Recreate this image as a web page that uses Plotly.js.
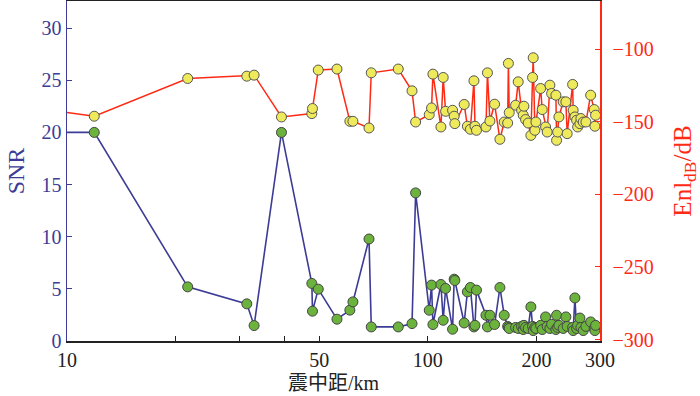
<!DOCTYPE html>
<html>
<head>
<meta charset="utf-8">
<script src="https://cdn.plot.ly/plotly-3.0.1.min.js"></script>
<style>html,body{margin:0;padding:0;background:#fff;}#chart{width:700px;height:396px;}</style>
</head>
<body>
<div id="chart"></div>
<script>
// epicentral distance (km)
const dist = [8, 11.9, 21.6, 31.5, 33.0, 39.3, 47.7, 47.9, 49.7, 56.0,
  60.8, 62.0, 68.7, 69.7, 82.8, 90.4, 92.5, 100.9, 102.4, 103.3,
  108.7, 110.3, 112.0, 117.1, 118.3, 118.8, 126.1, 128.7, 131.2, 134.2,
  135.1, 136.4, 144.9, 146.3, 148.6, 153.1, 158.4, 162.8, 166.4, 167.2,
  168.1, 175.1, 178.0, 181.9, 183.8, 184.6, 186.6, 189.7, 193.0, 195.1,
  195.9, 198.0, 199.3, 205.4, 207.5, 212.0, 214.2, 217.9, 220.3, 226.4,
  227.4, 228.9, 230.8, 237.2, 241.3, 243.3, 251.9, 252.8, 255.6, 258.4,
  260.1, 263.9, 265.6, 269.5, 274.2, 282.6, 289.1, 290.4, 291.7];
// SNR (left axis)
const snr = [20, 20, 5.19, 3.56, 1.48, 20, 5.52, 2.86, 4.97, 2.09,
  2.96, 3.75, 9.78, 1.35, 1.35, 1.67, 14.2, 2.95, 5.36, 1.58,
  5.42, 1.99, 5.04, 1.13, 5.93, 5.8, 1.73, 4.71, 5.13, 1.35,
  1.5, 4.88, 2.47, 1.35, 2.47, 1.58, 5.13, 2.47, 1.4, 1.3,
  1.2, 1.3, 1.2, 1.4, 1.1, 1.5, 1.3, 1.2, 3.27, 1.4,
  1.0, 1.3, 1.2, 1.5, 1.1, 2.31, 1.4, 1.2, 1.6, 1.1,
  2.47, 1.3, 1.5, 1.2, 2.31, 1.4, 1.3, 1.0, 4.13, 1.2,
  1.5, 2.2, 1.3, 1.0, 1.4, 1.83, 1.2, 1.0, 1.5];
// Enl_dB (right axis)
const enl = [-140.4, -146.1, -120.1, -118.5, -117.8, -146.6, -144.3, -140.8, -114.3, -113.6,
  -149.6, -149.6, -154.2, -116.2, -113.6, -128.6, -150.1, -145.0, -140.4, -117.1,
  -153.5, -119.4, -142.7, -142.0, -146.1, -151.2, -138.0, -153.0, -155.1, -121.7,
  -153.0, -155.8, -153.5, -116.2, -149.4, -137.8, -162.0, -150.1, -150.8, -109.7,
  -143.6, -138.5, -122.4, -142.0, -145.4, -139.2, -148.4, -150.8, -159.3, -119.4,
  -105.8, -155.8, -150.1, -127.0, -141.5, -153.5, -157.0, -124.7, -130.4, -131.6,
  -162.7, -157.0, -146.6, -136.2, -136.2, -158.1, -124.2, -142.0, -146.6, -148.9,
  -153.5, -151.2, -147.7, -150.1, -150.1, -131.6, -141.5, -153.0, -145.4];

const xTickVals = [10, 50, 100, 200, 300];
const xMinorTickVals = [20, 30, 40];
const yTickVals = [0, 5, 10, 15, 20, 25, 30];
const y2TickVals = [-300, -250, -200, -150, -100];

const BLUE = '#3c3c96';
const RED = '#ff2a14';
const SERIF = '"Liberation Serif", "Times New Roman", serif';
const CJK = '"Liberation Serif", "Noto Sans CJK SC", serif';

const traces = [
  {
    x: dist, y: snr, type: 'scatter', mode: 'lines+markers', yaxis: 'y',
    line: {color: BLUE, width: 1.6},
    marker: {size: 10, color: '#6cb33e', line: {color: '#444', width: 1}},
    showlegend: false, hoverinfo: 'skip'
  },
  {
    x: dist, y: enl, type: 'scatter', mode: 'lines+markers', yaxis: 'y2',
    line: {color: RED, width: 1.5},
    marker: {size: 10, color: '#eeea5c', line: {color: '#555', width: 1}},
    showlegend: false, hoverinfo: 'skip'
  }
];

const layout = {
  width: 700, height: 396,
  margin: {l: 67, r: 100, t: 1, b: 55, pad: 0},
  paper_bgcolor: '#fff', plot_bgcolor: '#fff',
  xaxis: {
    type: 'log', range: [1, Math.log10(300)],
    tickmode: 'array', tickvals: xTickVals,
    ticks: 'inside', ticklen: 5, tickwidth: 1, tickcolor: '#222',
    minor: {tickmode: 'array', tickvals: xMinorTickVals, ticks: 'inside', ticklen: 5, tickwidth: 1, tickcolor: '#222', showgrid: false},
    showline: true, linecolor: '#222', linewidth: 1.5, mirror: true,
    showgrid: false, zeroline: false,
    tickfont: {family: SERIF, size: 20, color: '#222'},
    title: {text: '震中距/km', font: {family: CJK, size: 20, color: '#222'}, standoff: 6}
  },
  yaxis: {
    range: [0, 32.6], tickvals: yTickVals,
    ticks: 'inside', ticklen: 5, tickwidth: 1, tickcolor: BLUE,
    showline: true, linecolor: BLUE, linewidth: 1.5,
    showgrid: false, zeroline: false,
    tickfont: {family: SERIF, size: 20, color: BLUE},
    title: {text: 'SNR', font: {family: SERIF, size: 24, color: BLUE}, standoff: 10}
  },
  yaxis2: {
    overlaying: 'y', side: 'right', range: [-301, -66.7], tickvals: y2TickVals,
    ticks: 'inside', ticklen: 5, tickwidth: 1, tickcolor: RED,
    showline: true, linecolor: RED, linewidth: 1.5,
    showgrid: false, zeroline: false,
    tickfont: {family: SERIF, size: 20, color: RED},
    ticklabelstandoff: 7,
    title: {text: 'Enl<sub>dB</sub>/dB', font: {family: SERIF, size: 25, color: RED}, standoff: 20}
  }
};

Plotly.newPlot('chart', traces, layout, {staticPlot: true, displayModeBar: false});
</script>
</body>
</html>
